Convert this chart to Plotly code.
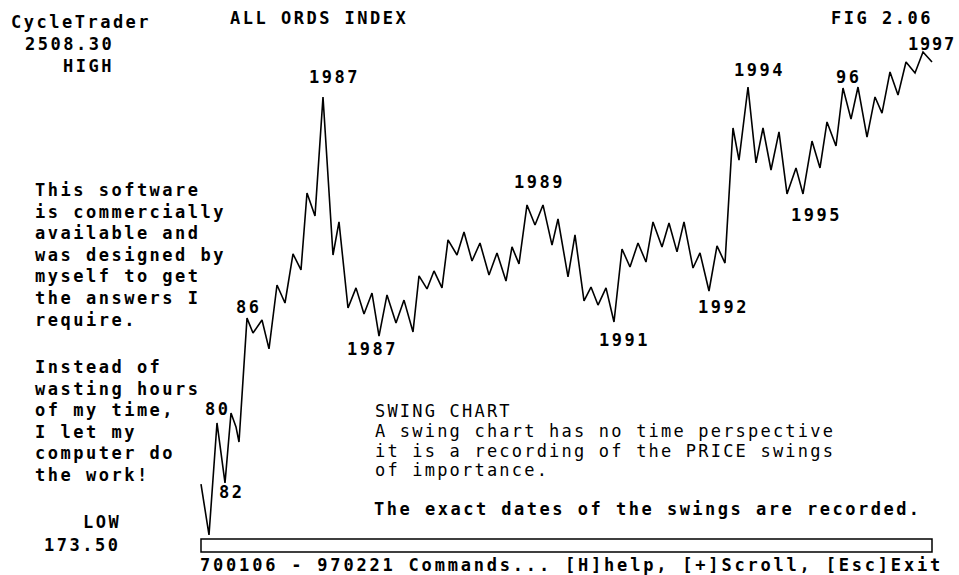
import plotly.graph_objects as go

# Swing chart of the All Ords index: column position of each swing point and its price
swing_col = [201, 209, 217, 225, 231, 236, 239, 247, 253, 262, 269, 277, 285, 293, 301,
             307, 315, 323, 333, 339, 348, 356, 364, 372, 379, 387, 396, 404, 413, 419,
             427, 434, 442, 448, 457, 464, 472, 480, 489, 497, 506, 512, 519, 527, 535,
             543, 552, 558, 568, 575, 584, 591, 598, 606, 614, 622, 630, 638, 646, 653,
             662, 669, 677, 684, 693, 700, 709, 717, 725, 733, 739, 748, 756, 763, 771,
             779, 787, 796, 803, 812, 820, 827, 836, 843, 851, 858, 867, 875, 882, 890,
             898, 906, 915, 923, 932]
swing_price = [420, 173.5, 715, 425, 763, 696, 623, 1222, 1150, 1213, 1073, 1382, 1295, 1532, 1455,
               1827, 1716, 2291, 1527, 1687, 1271, 1368, 1242, 1343, 1135, 1334, 1198, 1309, 1155, 1426,
               1363, 1450, 1368, 1600, 1527, 1638, 1498, 1585, 1430, 1537, 1401, 1566, 1484, 1769, 1672,
               1769, 1575, 1701, 1421, 1624, 1305, 1372, 1285, 1368, 1203, 1556, 1469, 1585, 1493, 1687,
               1566, 1682, 1542, 1687, 1464, 1537, 1353, 1571, 1488, 2141, 1986, 2339, 1972, 2141, 1938,
               2122, 1822, 1948, 1822, 2078, 1948, 2170, 2054, 2334, 2184, 2339, 2097, 2291, 2213, 2412,
               2300, 2460, 2407, 2508.3, 2460]

high_label = "2508.30"
low_label = "173.50"

W, H = 959, 575
FONT = "DejaVu Sans Mono"

fig = go.Figure()
fig.add_trace(go.Scatter(x=swing_col, y=swing_price, mode="lines",
                         line=dict(color="black", width=1.6), hoverinfo="skip",
                         showlegend=False))

# y range chosen so that the low sits just above the bar and the high near the top
units_per_px = (2508.3 - 173.5) / (535 - 52)
ymin = 173.5 - (H - 535) * units_per_px
ymax = 2508.3 + 52 * units_per_px


def yp(py):
    return 1 - py / H


def txt(s, x, y, size=17, bold=True, ls=2.5, xanchor="left", yanchor="middle"):
    weight = "bold" if bold else "normal"
    fig.add_annotation(
        x=x / W, y=yp(y), xref="paper", yref="paper",
        text=f'<span style="letter-spacing:{ls}px">{s}</span>',
        showarrow=False, xanchor=xanchor, yanchor=yanchor, align="left",
        font=dict(family=FONT, size=size, color="black", weight=weight))


# header
txt("CycleTrader", 9, 22)
txt(high_label, 23, 44)
txt("HIGH", 61, 66)
txt("ALL ORDS INDEX", 228, 18)
txt("FIG 2.06", 829, 18)

# swing labels
txt("1987", 307, 77)
txt("1994", 732, 70)
txt("96", 834, 77)
txt("1997", 906, 44, ls=1.8)
txt("1989", 512, 182)
txt("1995", 789, 215)
txt("1992", 696, 307)
txt("1991", 597, 340)
txt("1987", 345, 349)
txt("86", 234, 307)
txt("80", 203, 409)
txt("82", 217, 492)

# left notes
para1 = ["This software", "is commercially", "available and", "was designed by",
         "myself to get", "the answers I", "require."]
for i, line in enumerate(para1):
    txt(line, 33, 190 + i * 21.6)
para2 = ["Instead of", "wasting hours", "of my time,", "I let my", "computer do", "the work!"]
for i, line in enumerate(para2):
    txt(line, 33, 367 + i * 21.6)

# swing chart explanation
expl = ["SWING CHART", "A swing chart has no time perspective",
        "it is a recording of the PRICE swings", "of importance."]
for i, line in enumerate(expl):
    txt(line, 373, 411 + i * 19.8, bold=False, ls=2.2)
txt("The exact dates of the swings are recorded.", 372, 509)

txt("LOW", 81, 522)
txt(low_label, 42, 545)

txt("700106 - 970221 Commands... [H]help, [+]Scroll, [Esc]Exit", 198, 565, ls=2.8)

# scroll bar box
fig.add_shape(type="rect", xref="paper", yref="paper",
              x0=201 / W, x1=932 / W, y0=yp(552), y1=yp(539),
              line=dict(color="black", width=1.5), fillcolor="white")

fig.update_layout(
    width=W, height=H, margin=dict(l=0, r=0, t=0, b=0),
    paper_bgcolor="white", plot_bgcolor="white",
    xaxis=dict(range=[0, W], visible=False, fixedrange=True),
    yaxis=dict(range=[ymin, ymax], visible=False, fixedrange=True),
)

fig.write_html("out.html", config={"displayModeBar": False},
               post_script="document.body.style.margin='0';document.body.style.overflow='hidden';")
